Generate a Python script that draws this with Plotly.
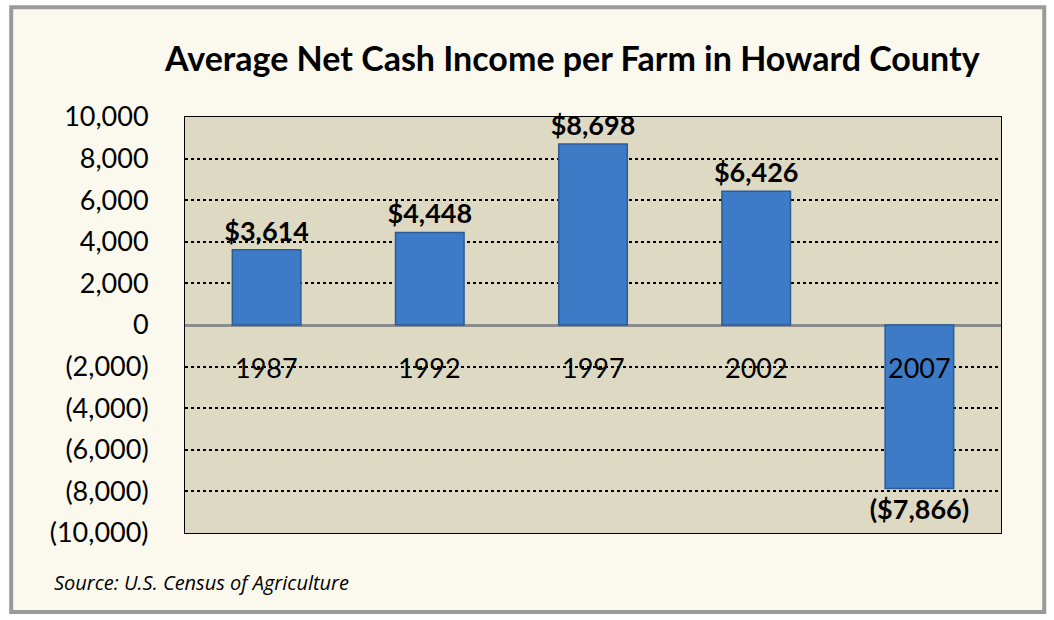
import plotly.graph_objects as go

years = ["1987", "1992", "1997", "2002", "2007"]
income = [3614, 4448, 8698, 6426, -7866]
tick_vals = [10000, 8000, 6000, 4000, 2000, 0, -2000, -4000, -6000, -8000, -10000]


def money(v):
    return f"${v:,}" if v >= 0 else f"(${-v:,})"


def tick(v):
    return f"{v:,}" if v >= 0 else f"({-v:,})"


FONT = "Lato, 'Open Sans', sans-serif"

fig = go.Figure()
fig.add_trace(go.Bar(
    x=years, y=income,
    text=[money(v) for v in income],
    textposition="outside",
    constraintext="none",
    textfont=dict(family=FONT, size=27, color="black", weight="bold"),
    cliponaxis=False,
    width=0.42,
    marker=dict(color="#3D7BC6", line=dict(color="#2B5C98", width=1.5)),
    showlegend=False,
))

for i, yr in enumerate(years):
    fig.add_annotation(x=i, y=0.397, xref="x", yref="paper", text=yr,
                       showarrow=False, font=dict(family=FONT, size=27, color="black"))

# outer frame
fig.add_shape(type="rect", xref="paper", yref="paper", layer="below",
              x0=-0.213, x1=1.053, y0=-0.19, y1=1.264,
              fillcolor="#FBF9EE", line=dict(color="#9A9A9A", width=4))
# plot area background
fig.add_shape(type="rect", xref="x domain", yref="y domain", layer="below",
              x0=0, x1=1, y0=0, y1=1,
              fillcolor="#DDD9C3", line=dict(width=0))

fig.add_annotation(text="Source: U.S. Census of Agriculture", xref="paper", yref="paper",
                   x=-0.163, y=-0.12, xanchor="left", yanchor="middle", showarrow=False,
                   font=dict(family="'Open Sans', sans-serif", size=20, color="black",
                             style="italic"))

fig.update_layout(
    width=1054, height=620,
    margin=dict(l=185, r=53, t=117, b=87),
    paper_bgcolor="white",
    plot_bgcolor="#DDD9C3",
    title=dict(text="Average Net Cash Income per Farm in Howard County",
               x=0.543, xanchor="center", y=0.905, yanchor="middle",
               font=dict(family=FONT, size=34, color="black", weight="bold")),
    xaxis=dict(type="category", range=[-0.5, len(years) - 0.5],
               showticklabels=False, showgrid=False, zeroline=False,
               showline=True, mirror=True, linecolor="black", linewidth=1),
    yaxis=dict(range=[-10000, 10000], tickvals=tick_vals,
               ticktext=[tick(v) for v in tick_vals],
               tickfont=dict(family=FONT, size=27, color="black"),
               ticklabelstandoff=30,
               showgrid=True, gridcolor="black", griddash="dot", gridwidth=1.5,
               zeroline=True, zerolinecolor="#8C8C8C", zerolinewidth=2.5,
               showline=True, mirror=True, linecolor="black", linewidth=1),
    bargap=0.58,
)

fig.write_html("out.html")
